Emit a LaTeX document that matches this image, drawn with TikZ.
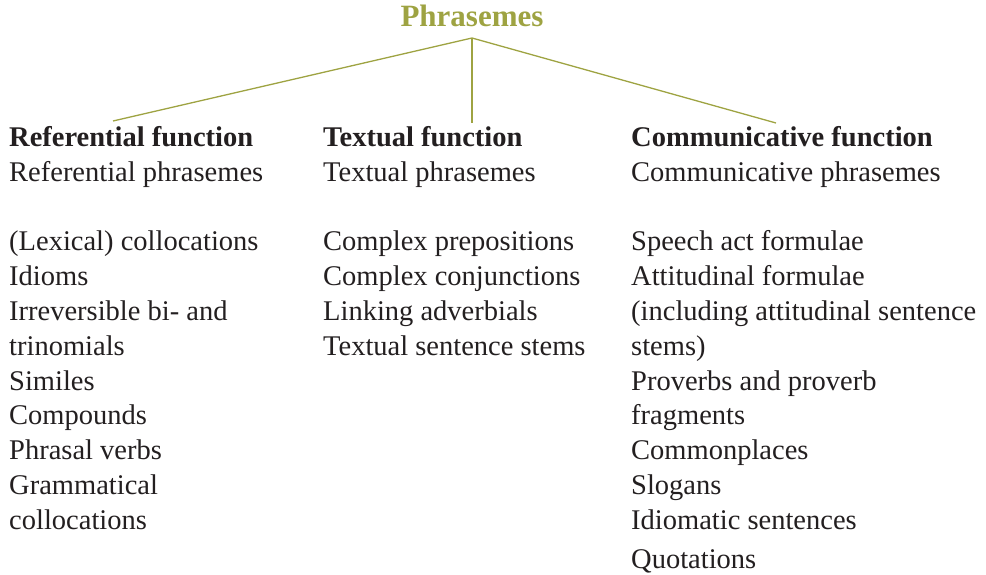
\documentclass[tikz,border=0pt]{standalone}
\usepackage{fontspec}
\setmainfont{Liberation Serif}
\usepackage{tikz}
\usetikzlibrary{positioning,calc}

\definecolor{olivegreen}{RGB}{158,163,66}
\definecolor{inkgrey}{RGB}{35,31,32}

\tikzset{
  coltext/.style={anchor=base west, inner sep=0pt, align=left, text=inkgrey,
    font=\fontsize{28.5}{34.8}\selectfont},
  branch/.style={draw=olivegreen, line width=1.3pt}
}

\begin{document}
\begin{tikzpicture}[x=1pt,y=-1pt]
\useasboundingbox (0,0) rectangle (986,575);

\node[inner sep=0pt, anchor=base, text=olivegreen, font=\fontsize{31}{36}\selectfont\bfseries, name=root] at (472,27) {Phrasemes};

% the three columns (placed by the baseline of their last line)
\node[coltext, name=ref] at (9,529.3) {\textbf{Referential function}\\
Referential phrasemes\\[34.8pt]
(Lexical) collocations\\
Idioms\\
Irreversible bi- and\\
trinomials\\
Similes\\
Compounds\\
Phrasal verbs\\
Grammatical\\
collocations};

\node[coltext, name=txt] at (323,355.3) {\textbf{Textual function}\\
Textual phrasemes\\[34.8pt]
Complex prepositions\\
Complex conjunctions\\
Linking adverbials\\
Textual sentence stems};

\node[coltext, name=com] at (631,568) {\textbf{Communicative function}\\
Communicative phrasemes\\[34.8pt]
Speech act formulae\\
Attitudinal formulae\\
(including attitudinal sentence\\
stems)\\
Proverbs and proverb\\
fragments\\
Commonplaces\\
Slogans\\
Idiomatic sentences\\[4pt]
Quotations};

\coordinate (top) at (472,38);
\coordinate (refend) at (113,121);
\coordinate (txtend) at (472,123);
\coordinate (comend) at (776,123);

\draw[branch] (top) -- (refend);
\draw[branch] (top) -- (txtend);
\draw[branch] (top) -- (comend);
\end{tikzpicture}
\end{document}
